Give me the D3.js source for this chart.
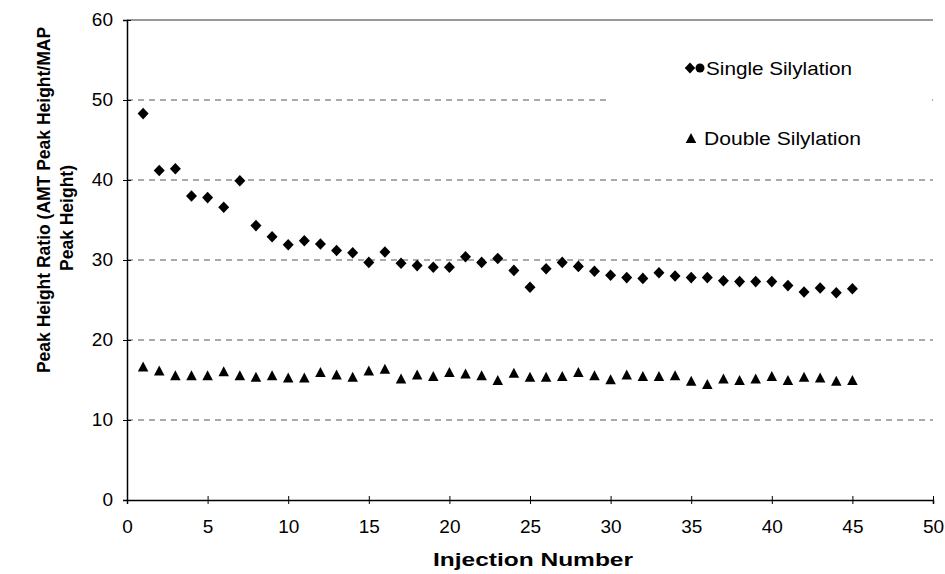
<!DOCTYPE html>
<html>
<head>
<meta charset="utf-8">
<script src="https://cdn.jsdelivr.net/npm/d3@7"></script>
<style>
  body { margin: 0; background: #fff; }
  svg text { font-family: "Liberation Sans", Arial, sans-serif; fill: #000; }
</style>
</head>
<body>
<svg id="chart" width="945" height="574"></svg>
<script>
// Dados
const injections = d3.range(1, 46);
const singleSilylation = [48.3, 41.2, 41.4, 38.0, 37.8, 36.6, 39.9, 34.3, 32.9, 31.9,
  32.4, 32.0, 31.2, 30.9, 29.7, 31.0, 29.6, 29.3, 29.1, 29.1,
  30.4, 29.7, 30.2, 28.7, 26.6, 28.9, 29.7, 29.2, 28.6, 28.1,
  27.8, 27.7, 28.4, 28.0, 27.8, 27.8, 27.4, 27.3, 27.3, 27.3,
  26.8, 26.0, 26.5, 25.9, 26.4];
const doubleSilylation = [16.7, 16.2, 15.6, 15.6, 15.6, 16.1, 15.6, 15.4, 15.6, 15.3,
  15.3, 16.0, 15.7, 15.4, 16.2, 16.4, 15.2, 15.7, 15.5, 16.0,
  15.8, 15.6, 15.0, 15.9, 15.4, 15.4, 15.5, 16.0, 15.6, 15.1,
  15.7, 15.5, 15.5, 15.6, 14.9, 14.5, 15.2, 15.0, 15.2, 15.5,
  15.0, 15.4, 15.3, 14.9, 15.0];
const xTicks = [0, 5, 10, 15, 20, 25, 30, 35, 40, 45, 50];
const yTicks = [0, 10, 20, 30, 40, 50, 60];
const legendLabels = ["Single Silylation", "Double Silylation"];

const margin = {top: 20, right: 10, bottom: 74, left: 127};
const svg = d3.select("#chart");
const width = 933 - margin.left;
const height = 500 - margin.top;

const g = svg.append("g").attr("transform", `translate(${margin.left},${margin.top})`);

// Escalas
const x = d3.scaleLinear().domain([0, 50]).range([0, width]);
const y = d3.scaleLinear().domain([0, 60]).range([height, 0]);

// Linhas de grade tracejadas
g.append("g")
  .selectAll("line")
  .data(yTicks.filter(v => v > 0 && v < 60))
  .join("line")
  .attr("x1", 0).attr("x2", width)
  .attr("y1", d => y(d)).attr("y2", d => y(d))
  .attr("stroke", "#555")
  .attr("stroke-width", 1)
  .attr("stroke-dasharray", "6,5");

// Borda superior
g.append("line")
  .attr("x1", 0).attr("x2", width)
  .attr("y1", 0).attr("y2", 0)
  .attr("stroke", "#333").attr("stroke-width", 1);

// Eixos
const yAxis = g.append("g")
  .call(d3.axisLeft(y).tickValues(yTicks).tickSize(4).tickPadding(10));
yAxis.select(".domain").attr("stroke", "#000").attr("stroke-width", 1.5);
yAxis.selectAll(".tick line").clone().attr("x2", 4);
yAxis.selectAll("text").style("font-size", "19px").attr("dy", "0.3em");

const xAxis = g.append("g")
  .attr("transform", `translate(0,${height})`)
  .call(d3.axisBottom(x).tickValues(xTicks).tickSize(4).tickPadding(16));
xAxis.select(".domain").attr("stroke", "#000").attr("stroke-width", 1.5);
xAxis.selectAll(".tick line").clone().attr("y2", -4);
xAxis.selectAll("text").style("font-size", "19px");

// Símbolos
const diamond = {
  draw(ctx, size) {
    const r = Math.sqrt(size) / 2;
    ctx.moveTo(0, -r * 1.05);
    ctx.lineTo(r, 0);
    ctx.lineTo(0, r * 1.05);
    ctx.lineTo(-r, 0);
    ctx.closePath();
  }
};
const triangle = {
  draw(ctx, size) {
    const r = Math.sqrt(size) / 2;
    ctx.moveTo(0, -r);
    ctx.lineTo(r * 1.05, r);
    ctx.lineTo(-r * 1.05, r);
    ctx.closePath();
  }
};

g.append("g")
  .selectAll("path")
  .data(injections.map((n, i) => ({n, v: singleSilylation[i]})))
  .join("path")
  .attr("transform", d => `translate(${x(d.n)},${y(d.v)})`)
  .attr("d", d3.symbol(diamond, 121))
  .attr("fill", "#000");

g.append("g")
  .selectAll("path")
  .data(injections.map((n, i) => ({n, v: doubleSilylation[i]})))
  .join("path")
  .attr("transform", d => `translate(${x(d.n)},${y(d.v)})`)
  .attr("d", d3.symbol(triangle, 100))
  .attr("fill", "#000");

// Legenda
const legend = svg.append("g");
legend.append("rect")
  .attr("x", 606).attr("y", 40).attr("width", 326).attr("height", 125)
  .attr("fill", "#fff");
legend.append("path")
  .attr("transform", "translate(690,68)")
  .attr("d", d3.symbol(diamond, 110))
  .attr("fill", "#000");
legend.append("circle")
  .attr("cx", 700).attr("cy", 68).attr("r", 4.5)
  .attr("fill", "#000");
legend.append("text")
  .attr("x", 706).attr("y", 75)
  .attr("textLength", 146).attr("lengthAdjust", "spacingAndGlyphs")
  .style("font-size", "18.5px")
  .text(legendLabels[0]);
legend.append("path")
  .attr("transform", "translate(691,138)")
  .attr("d", d3.symbol(triangle, 100))
  .attr("fill", "#000");
legend.append("text")
  .attr("x", 704).attr("y", 145)
  .attr("textLength", 157).attr("lengthAdjust", "spacingAndGlyphs")
  .style("font-size", "18.5px")
  .text(legendLabels[1]);

// Títulos dos eixos
svg.append("text")
  .attr("x", 433).attr("y", 566)
  .attr("textLength", 200).attr("lengthAdjust", "spacingAndGlyphs")
  .style("font-size", "19px").style("font-weight", "bold")
  .text("Injection Number");

const yTitle = svg.append("text")
  .attr("transform", "translate(0,200) rotate(-90)")
  .attr("text-anchor", "middle")
  .style("font-size", "17.5px").style("font-weight", "bold");
yTitle.append("tspan").attr("x", 0).attr("y", 50).text("Peak Height Ratio (AMT Peak Height/MAP");
yTitle.append("tspan").attr("x", -18).attr("y", 73).text("Peak Height)");
</script>
</body>
</html>
